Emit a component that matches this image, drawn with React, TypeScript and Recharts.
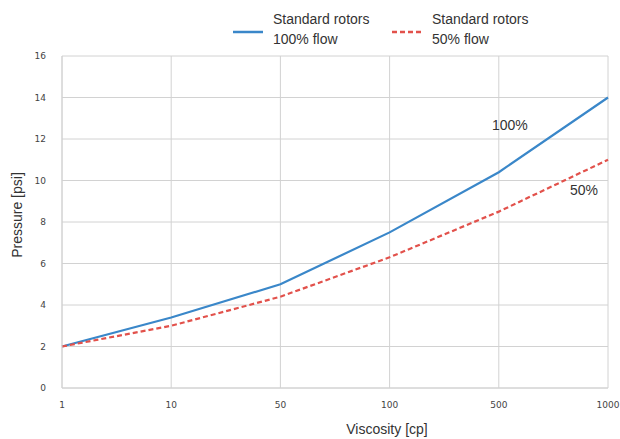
import { LineChart, Line, XAxis, YAxis, CartesianGrid, LabelList } from "recharts";

const viscosity = ["1", "10", "50", "100", "500", "1000"];
const flow100 = [2.0, 3.4, 5.0, 7.5, 10.4, 14.0];
const flow50 = [2.0, 3.0, 4.4, 6.3, 8.5, 11.0];
const yTicks = [0, 2, 4, 6, 8, 10, 12, 14, 16];

const BLUE = "#3a87c9";
const RED = "#e2514b";
const TEXT = "#333333";
const GRID = "#d2d2d2";
const FONT = "'Liberation Sans', Arial, sans-serif";

const rows = viscosity.map((v, i) => ({ visc: v, full: flow100[i], half: flow50[i] }));

// legend drawn as an overlay so it does not push the plot down
function LegendBox() {
  const item = (left: number, color: string, dashed: boolean, line2: string) => (
    <div style={{ position: "absolute", left, top: 8, display: "flex", alignItems: "center" }}>
      <svg width={40} height={42}>
        <line
          x1={0}
          x2={30}
          y1={24}
          y2={24}
          stroke={color}
          strokeWidth={2.5}
          strokeDasharray={dashed ? "5 3" : undefined}
        />
      </svg>
      <div style={{ fontSize: 14, lineHeight: "20px", color: TEXT, fontFamily: FONT }}>
        Standard rotors
        <br />
        {line2}
      </div>
    </div>
  );
  return (
    <div style={{ position: "absolute", left: 0, top: 0, width: 620, height: 56 }}>
      {item(233, BLUE, false, "100% flow")}
      {item(392, RED, true, "50% flow")}
    </div>
  );
}

const pctLabel = (text: string, at: number, dx: number, dy: number) => (props: any) => {
  if (props.index !== at) return null;
  return (
    <text
      x={props.x + dx}
      y={props.y + dy}
      textAnchor="middle"
      dominantBaseline="central"
      fontSize={14}
      fill={TEXT}
      fontFamily={FONT}
    >
      {text}
    </text>
  );
};

export default function App() {
  return (
    <div style={{ position: "absolute", left: 0, top: 0, width: 620, height: 439, background: "#fff" }}>
      <LineChart width={620} height={439} data={rows} margin={{ top: 56, right: 12, bottom: 0, left: 0 }}>
        <CartesianGrid stroke={GRID} />
        <XAxis
          dataKey="visc"
          tickLine={false}
          axisLine={{ stroke: GRID }}
          tick={{ fontSize: 9, fill: "#444", fontFamily: "'DejaVu Sans', sans-serif" }}
          tickMargin={8}
          height={51}
          label={{
            value: "Viscosity [cp]",
            position: "insideBottom",
            offset: 5,
            dx: 52,
            style: { fontSize: 14, fill: TEXT, fontFamily: FONT },
          }}
        />
        <YAxis
          domain={[0, 16]}
          ticks={yTicks}
          tickLine={false}
          axisLine={{ stroke: GRID }}
          width={62}
          tickMargin={10}
          tick={{ fontSize: 9, fill: "#444", fontFamily: "'DejaVu Sans', sans-serif" }}
          label={{
            value: "Pressure [psi]",
            angle: -90,
            position: "insideLeft",
            offset: 17,
            dy: -7,
            style: { textAnchor: "middle", fontSize: 14, fill: TEXT, fontFamily: FONT },
          }}
        />
        <Line
          type="linear"
          dataKey="full"
          stroke={BLUE}
          strokeWidth={2.2}
          dot={false}
          isAnimationActive={false}
        >
          <LabelList dataKey="full" content={pctLabel("100%", 4, 11, -47)} />
        </Line>
        <Line
          type="linear"
          dataKey="half"
          stroke={RED}
          strokeWidth={2.2}
          strokeDasharray="5 3"
          dot={false}
          isAnimationActive={false}
        >
          <LabelList dataKey="half" content={pctLabel("50%", 5, -24, 30)} />
        </Line>
      </LineChart>
      <LegendBox />
    </div>
  );
}
